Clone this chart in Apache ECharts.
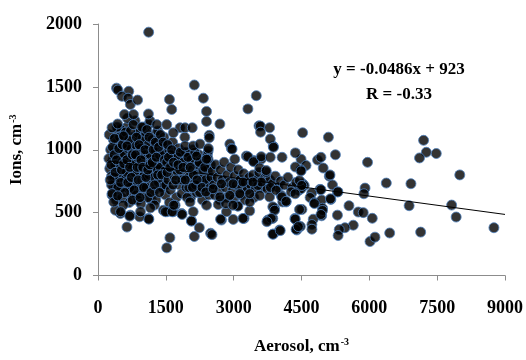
<!DOCTYPE html>
<html><head><meta charset="utf-8">
<script src="https://cdn.jsdelivr.net/npm/echarts@6/dist/echarts.min.js"></script>
<style>html,body{margin:0;padding:0;background:#fff}#c{width:526px;height:360px}</style>
</head><body><div id="c"></div>
<script>
// Aerosol (cm^-3), Ions (cm^-3) pairs
const pointsOutliers = [
[1120,1935],[410,1490],[440,1475],[680,1465],[530,1425],[665,1410],[715,1360],[875,1395],[585,1280],[785,1280],[1115,1285],[310,1175],[435,1205],[365,1090],[565,1110],[640,1030],
[2130,1515],[2330,1410],[1580,1400],[1630,1320],[2400,1305],[2400,1225],[2695,1205],[2460,1115],[3315,1325],[3500,1430],[3560,1190],[3280,950],[3440,915],
[1300,1200],[1520,1200],[1815,1175],[1925,1175],[2085,1175],[1665,1135],[1925,1030],[2105,1030],[2255,1045],[2915,1045],[2950,1010],[3025,925],[2435,990],[2180,950],[2435,925],
[3590,1188],[3795,1175],[3595,1140],[3810,1085],[3880,1020],[3315,945],[3440,905],[3610,945],[3810,940],[4070,940],[4365,975],[3575,855],[3720,835],[2460,1095],[2965,1005],[2400,925],[2440,1010]
];
const pointsRight = [
[4525,1135],[5095,1100],[5250,960],[5960,900],[6375,735],[4490,925],[4600,875],[4855,918],[4930,940],[4980,855],[5115,790],[5185,720],[5295,665],[4910,685],[4725,655],[4690,620],[4785,580],[4945,600],[5150,605],[4965,535],[4945,475],[5295,480],[5550,555],[5755,505],[5865,500],[5905,695],[5880,650],[6065,455],[5645,400],[5460,380],[5335,365],[5310,318],[6015,270],[6125,305],[6450,338],[4760,448],[4730,405],[4730,368],[4510,525],[4475,390],[4490,840],[4525,730],[4560,715],[4490,690],
[3610,925],[3815,700],[3940,678],[4065,625],[4160,590],[4270,665],[4360,650],[4930,682],[5140,610],[5305,665],[4785,572],[4965,517],[4930,485],[4455,525],[4360,448],[4380,367],[4430,389],[3865,546],[3905,519],[3830,454],[3735,428],[3865,328],[4030,357],[4455,755],[4505,716],[3720,821],[4365,863],[4490,832],[5130,800],[3875,1028],
[7200,1075],[7260,980],[7110,935],[7480,970],[6920,730],[8000,800],[6880,555],[7820,560],[7920,465],[7135,345],[8755,380]
];
const pointsLow = [
[640,385],[1520,220],[1590,300],[2130,310],[2240,380],[2490,336],[2520,325],[2070,433],[1850,493],[2730,441],[2990,446],[3230,454],[3355,514],[3085,554],[2660,564],[2840,507],[2400,559],[2105,507],[2035,585],[1115,454],[920,467],[715,480],[495,493],[385,519],[312,651],[348,585],[436,633],[1445,519],[1525,507],[1665,507],[1705,559],[3355,585],[1125,448],[700,472],[500,507],[940,507],[1160,538],[1490,507],[1640,507],[1675,559],[1860,485],[2065,433],[2710,448],[3205,454],[3095,551],[2825,572],[2385,664],[3755,441],[3865,454],[4015,362],[3880,330],[4355,454],[4395,362],[4440,389],[3795,625],[4050,637],[4085,585],[4160,585],[3905,533],[4440,677],[3135,651],[3355,651],[3575,637],[3535,716],[3610,743],[3425,743],[3205,743],[2985,729],[2730,729],[2545,690],[2695,625],[2915,637],[2985,559]
];
const pointsDenseA = [
[260,850],[300,790],[330,920],[350,710],[380,980],[400,860],[420,760],[430,1050],[450,940],[470,680],[480,820],[500,1000],[520,900],[540,750],[560,1120],[580,840],[600,960],[620,700],[640,1180],[650,880],[680,790],[700,1020],[710,940],[730,650],[750,860],[770,1100],[780,740],[800,980],[820,1230],[840,880],[860,800],[880,1060],[900,700],[910,950],[930,1150],[950,830],[970,760],[990,1010],[1000,900],[1020,640],[1040,1090],[1060,860],[1080,780],[1100,970],[1120,1200],[1140,900],[1150,720],[1170,1040],[1190,820],[1210,950],[1230,670],[1250,1120],[1270,880],[1290,760],[1310,1000],[1330,910],[1350,820],[1370,1070],[1390,700],[1410,950],[1430,870],[1450,780],[1470,1020],[1490,640],
[280,1000],[310,640],[340,1080],[370,880],[400,600],[440,1150],[460,780],[490,880],[510,1160],[530,620],[560,970],[590,760],[610,1060],[630,820],[660,1010],[690,580],[720,880],[740,1010],[760,720],[790,920],[810,820],[830,1040],[850,640],[870,940],[890,1130],[920,860],[940,1010],[960,700],[980,1090],[1010,790],[1030,960],[1050,1140],[1070,700],[1090,880],[1110,1040],[1130,800],[1160,960],[1180,600],[1200,1080],[1220,870],[1240,780],[1260,1000],[1280,600],[1300,850],[1320,1150],[1340,740],[1360,960],[1380,860],[1400,1050],[1420,700],[1440,960],[1460,1100],[1480,830],
[350,780],[390,700],[520,700],[700,700],[880,600],[1000,1180],[1150,1230],[650,1250],[420,1180],[760,600],[1100,620],[1250,560],[560,560],[950,570],[300,720],[240,930],[270,760],
[250,1120],[290,880],[320,1020],[360,960],[380,820],[410,920],[440,700],[460,1010],[480,1100],[500,740],[520,840],[540,1040],[570,890],[590,660],[610,1140],[640,920],[660,740],[680,1080],[700,860],[720,1150],[740,780],[760,960],[780,1200],[800,680],[830,960],[850,1100],[870,860],[890,760],[910,1040],[930,620],[950,920],[970,1180],[990,860],[1010,700],[1040,1000],[1060,780],[1080,1160],[1100,840],[1130,1100],[1150,880],[1170,660],[1200,900],[1220,1000],[1250,720],[1270,1060],[1290,940],[1320,800],[1340,1020],[1360,660],[1380,1120],[1410,800],[1440,1060],[1470,920],[1500,720]
];
const pointsDenseB = [
[1520,900],[1550,760],[1570,1000],[1600,680],[1620,860],[1650,1060],[1680,790],[1700,940],[1730,620],[1750,830],[1780,1010],[1800,720],[1830,900],[1850,650],[1870,980],[1900,800],[1920,1100],[1950,700],[1980,880],[2000,780],[2020,960],[2050,620],[2080,840],[2100,1000],[2120,730],[2150,900],[2180,660],[2200,810],[2230,960],[2260,740],[2290,870],[2310,600],[2340,780],[2370,920],[2400,700],[2430,840],[2460,760],[2490,880],
[1540,1040],[1580,580],[1610,960],[1660,720],[1710,870],[1760,940],[1810,840],[1860,760],[1890,900],[1940,980],[1970,620],[2010,700],[2060,920],[2110,800],[2160,720],[2210,880],[2250,660],[2320,840],[2380,760],[2450,640],[2500,780],
[1530,820],[1560,940],[1590,860],[1630,1000],[1670,900],[1720,760],[1770,880],[1820,980],[1880,860],[1930,760],[1990,940],[2040,860],[2090,700],[2140,980],[2190,760],[2240,900],[2300,700],[2360,860],[2420,960],[2480,700]
];
const pointsDenseC = [
[2530,830],[2560,720],[2600,880],[2640,780],[2680,680],[2710,840],[2750,760],[2790,900],[2820,700],[2860,800],[2900,740],[2940,860],[2980,680],[3020,790],[3060,720],[3100,840],[3140,760],[3180,700],[3220,810],[3260,740],[3300,680],[3340,780],[3380,720],[3430,800],[3480,690],[3520,760],[3560,820],[3620,700],[3680,770],[3740,690],[3800,760],[3860,730],[3920,790],[3980,700],[4040,750],[4120,720],[4200,780],[4300,700],[4380,740],
[2580,640],[2700,600],[2850,620],[3000,610],[3150,640],[3250,600],[3450,620]
];
const xTicks = [0,1500,3000,4500,6000,7500,9000];
const yTicks = [0,500,1000,1500,2000];
const trendSlope = -0.0486, trendIntercept = 923;
const trendX = [200, 9000];

const allPoints = [].concat(pointsDenseA, pointsDenseB, pointsDenseC, pointsLow, pointsRight, pointsOutliers);
const trendData = trendX.map(x => [x, trendSlope * x + trendIntercept]);

const FONT = '"Liberation Serif","Times New Roman",serif';
const chart = echarts.init(document.getElementById('c'), null, {renderer:'canvas'});
chart.setOption({
  animation:false,
  backgroundColor:'#fff',
  grid:{left:97, right:19, top:24, bottom:82},
  xAxis:{
    type:'value', min:xTicks[0], max:xTicks[xTicks.length-1], interval:1500,
    axisLine:{show:true, lineStyle:{color:'#8c8c8c', width:1}},
    axisTick:{show:true, length:5, lineStyle:{color:'#8c8c8c'}},
    splitLine:{show:false},
    axisLabel:{fontFamily:FONT, fontWeight:'bold', fontSize:18, color:'#000', margin:24, formatter:v=>String(v)},
    name:'{a|Aerosol, cm}{s|-3}', nameLocation:'middle', nameGap:62,
    nameTextStyle:{rich:{
      a:{fontFamily:FONT, fontWeight:'bold', fontSize:17, color:'#000'},
      s:{fontFamily:FONT, fontWeight:'bold', fontSize:10, color:'#000', verticalAlign:'top', padding:[0,0,8,1]}
    }}
  },
  yAxis:{
    type:'value', min:yTicks[0], max:yTicks[yTicks.length-1], interval:500,
    axisLine:{show:true, lineStyle:{color:'#8c8c8c', width:1}},
    axisTick:{show:true, length:5, lineStyle:{color:'#8c8c8c'}},
    splitLine:{show:false},
    axisLabel:{fontFamily:FONT, fontWeight:'bold', fontSize:18, color:'#000', margin:16, formatter:v=>String(v)},
    name:'{a|Ions, cm}{s|-3}', nameLocation:'middle', nameGap:72, nameRotate:90,
    nameTextStyle:{rich:{
      a:{fontFamily:FONT, fontWeight:'bold', fontSize:17, color:'#000'},
      s:{fontFamily:FONT, fontWeight:'bold', fontSize:10, color:'#000', verticalAlign:'top', padding:[0,0,8,1]}
    }}
  },
  series:[
    {type:'scatter', data:allPoints, symbol:'circle', symbolSize:10,
     itemStyle:{color:'#000', borderColor:'#4f81bd', borderWidth:1}, z:2},
    {type:'line', data:trendData, showSymbol:false, symbol:'none',
     lineStyle:{color:'#000', width:1}, z:3, silent:true}
  ],
  graphic:[
    {type:'text', x:399, y:70, style:{text:'y = -0.0486x + 923', fontFamily:FONT, fontWeight:'bold', fontSize:17, fill:'#000', align:'center', verticalAlign:'middle'}},
    {type:'text', x:399, y:95, style:{text:'R = -0.33', fontFamily:FONT, fontWeight:'bold', fontSize:17, fill:'#000', align:'center', verticalAlign:'middle'}}
  ]
});
</script>
</body></html>
